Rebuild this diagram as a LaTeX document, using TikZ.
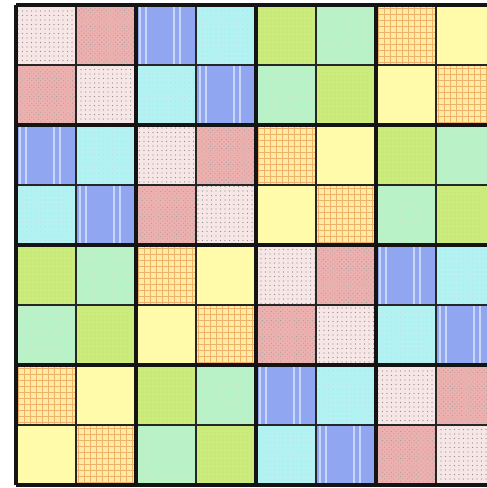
\documentclass[tikz,border=0pt]{standalone}
\usepackage{xcolor}
\usetikzlibrary{patterns.meta}
\definecolor{paleRose}{HTML}{F7E6E6}
\definecolor{salmon}{HTML}{ECB0AE}
\definecolor{stripeBlue}{HTML}{90A6F0}
\definecolor{stripeLight}{HTML}{C8D6FA}
\definecolor{aqua}{HTML}{B2F2F2}
\definecolor{lime}{HTML}{CBEB7C}
\definecolor{mint}{HTML}{B8F2C6}
\definecolor{plaidBase}{HTML}{FDECA6}
\definecolor{plaidLine}{HTML}{F0B266}
\definecolor{butter}{HTML}{FFFBAA}
\tikzset{
  cellA/.style={fill=paleRose,postaction={pattern={Dots[distance=4.5pt,radius=0.55pt]},pattern color=black!45}},
  cellB/.style={fill=salmon,postaction={pattern={Dots[distance=3.2pt,radius=0.5pt,angle=45]},pattern color=black!40}},
  cellC/.style={fill=stripeBlue,path picture={
      \foreach \s in {4,10,38,44}
        \draw[stripeLight,line width=1.6pt] ([xshift=\s pt]path picture bounding box.north west)--([xshift=\s pt]path picture bounding box.south west);}},
  cellD/.style={fill=aqua,postaction={pattern={Dots[distance=4.5pt,radius=0.45pt]},pattern color=black!20}},
  cellE/.style={fill=lime,postaction={pattern={Dots[distance=4pt,radius=0.45pt]},pattern color=black!25}},
  cellF/.style={fill=mint,postaction={pattern={Dots[distance=4.5pt,radius=0.4pt]},pattern color=black!12}},
  cellG/.style={fill=plaidBase,postaction={pattern={Hatch[angle=0,distance=6pt,line width=0.7pt]},pattern color=plaidLine}},
  cellH/.style={fill=butter},
  thinrule/.style={line width=1.5pt,black!85},
  thickrule/.style={line width=3.6pt,black!92}
}
\begin{document}
\begin{tikzpicture}[x=1pt,y=-1pt]
  \useasboundingbox (0,0) rectangle (487,488);
  \clip (0,0) rectangle (487,488);
  % blocks: first/second cell pattern of each 2x2 block
  \foreach \bx/\by/\p/\q in {0/0/A/B,1/0/C/D,2/0/E/F,3/0/G/H,
                             0/1/C/D,1/1/A/B,2/1/G/H,3/1/E/F,
                             0/2/E/F,1/2/G/H,2/2/A/B,3/2/C/D,
                             0/3/G/H,1/3/E/F,2/3/C/D,3/3/A/B}{
    \path[cell\p] ({16+120*\bx},{5+120*\by}) rectangle ++(60,60);
    \path[cell\q] ({76+120*\bx},{5+120*\by}) rectangle ++(60,60);
    \path[cell\q] ({16+120*\bx},{65+120*\by}) rectangle ++(60,60);
    \path[cell\p] ({76+120*\bx},{65+120*\by}) rectangle ++(60,60);
  }
  % cell rules
  \foreach \i in {1,3,5,7}{
    \draw[thinrule] ({16+60*\i},5)--({16+60*\i},485);
    \draw[thinrule] (16,{5+60*\i})--(496,{5+60*\i});
  }
  % block rules
  \foreach \i in {0,2,4,6,8}{
    \draw[thickrule] ({16+60*\i},5)--({16+60*\i},485);
    \draw[thickrule] (16,{5+60*\i})--(496,{5+60*\i});
  }
\end{tikzpicture}
\end{document}
